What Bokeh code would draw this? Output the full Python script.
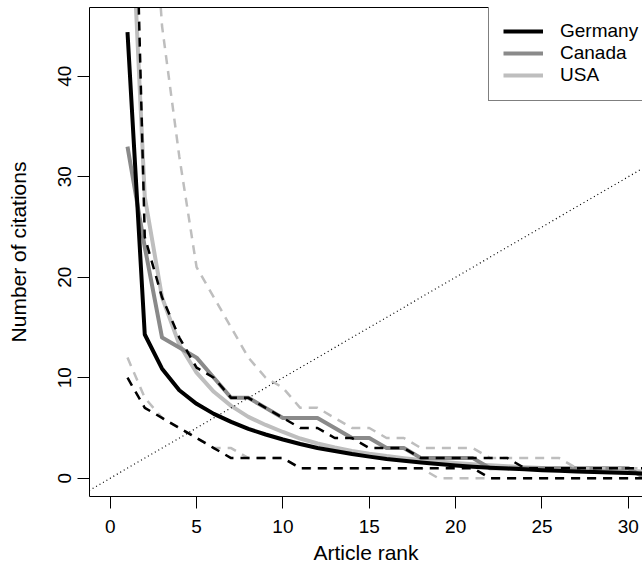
from bokeh.plotting import figure
from bokeh.models import (LinearAxis, FixedTicker, Range1d, Legend, LegendItem,
                          Slope, ColumnDataSource)
from bokeh.embed import file_html
from bokeh.resources import INLINE

# ---------------- data ----------------
rank = list(range(1, 33))

germany_fit = [44.4, 14.3, 10.9, 8.75, 7.4, 6.4, 5.6, 4.9, 4.35, 3.85, 3.4, 3.0,
               2.7, 2.4, 2.15, 1.92, 1.73, 1.56, 1.41, 1.27, 1.15, 1.05, 0.96,
               0.88, 0.8, 0.73, 0.67, 0.61, 0.56, 0.51, 0.46, 0.42]
canada_obs = [33, 23, 14, 13, 12, 10, 8, 8, 7, 6, 6, 6, 5, 4, 4, 3, 3, 2, 2, 2,
              2, 1, 1, 1, 1, 1, 1, 1, 1, 1, 0, 0]
usa_fit = [65, 28, 18, 13.3, 10.5, 8.6, 7.2, 6.1, 5.3, 4.6, 3.95, 3.45, 3.05,
           2.72, 2.44, 2.2, 2.0, 1.82, 1.66, 1.52, 1.4, 1.29, 1.19, 1.1, 1.02,
           0.95, 0.88, 0.82, 0.76, 0.71, 0.66, 0.62]
germany_hi = [90, 24, 18, 14, 11, 10, 8, 8, 7, 6, 5, 5, 4, 4, 3, 3, 3, 2, 2, 2,
              2, 2, 2, 1, 1, 1, 1, 1, 1, 1, 1, 1]
germany_lo = [10, 7, 6, 5, 4, 3, 2, 2, 2, 2, 1, 1, 1, 1, 1, 1, 1, 1, 1, 1, 1,
              0, 0, 0, 0, 0, 0, 0, 0, 0, 0, 0]
usa_hi = [120, 70, 45, 32, 21, 18, 15, 12, 10, 9, 7, 7, 6, 5, 5, 4, 4, 3, 3, 3,
          3, 2, 2, 2, 2, 2, 1, 1, 1, 1, 1, 1]
usa_lo = [12, 8, 6, 5, 4, 3, 3, 2, 2, 2, 1, 1, 1, 1, 1, 1, 1, 1, 0, 0, 0, 0, 0,
          0, 0, 0, 0, 0, 0, 0, 0, 0]

x_ticks = [0, 5, 10, 15, 20, 25, 30]
y_ticks = [0, 10, 20, 30, 40]
series_names = ["Germany", "Canada", "USA"]

# ---------------- figure ----------------
FONT = "Liberation Sans"
FS = "19px"
FS_TITLE = "21px"

p = figure(width=642, height=569, output_backend="svg", toolbar_location=None,
           x_range=Range1d(-1.2, 30.82), y_range=Range1d(-1.82, 46.84),
           min_border_left=89, min_border_right=0, min_border_top=7,
           min_border_bottom=73)
p.grid.visible = False
p.outline_line_color = None
p.background_fill_color = "white"
p.border_fill_color = "white"

src = ColumnDataSource(dict(x=rank, ger=germany_fit, can=canada_obs, usa=usa_fit,
                            ghi=germany_hi, glo=germany_lo, uhi=usa_hi, ulo=usa_lo))

BLACK = "#000000"
GRAY = "#8a8a8a"
LIGHT = "#bebebe"

r_usa = p.line("x", "usa", source=src, line_color=LIGHT, line_width=4, line_join="round")
r_can = p.line("x", "can", source=src, line_color=GRAY, line_width=4, line_join="round")
r_ger = p.line("x", "ger", source=src, line_color=BLACK, line_width=4, line_join="round")
for col in ("uhi", "ulo"):
    p.line("x", col, source=src, line_color=LIGHT, line_width=2.5, line_dash="9 7")
for col in ("ghi", "glo"):
    p.line("x", col, source=src, line_color=BLACK, line_width=2.5, line_dash="9 7")

p.add_layout(Slope(gradient=1, y_intercept=0, line_color="black", line_width=1.2,
                   line_dash="1 3"))

# axes
for ax in (p.xaxis[0], p.yaxis[0]):
    ax.axis_line_color = "black"
    ax.axis_line_width = 1
    ax.major_tick_line_color = "black"
    ax.major_tick_out = 12
    ax.major_tick_in = 0
    ax.minor_tick_out = 0
    ax.minor_tick_in = 0
    ax.major_label_text_font = FONT
    ax.major_label_text_font_size = FS
    ax.major_label_text_color = "black"
    ax.axis_label_text_font = FONT
    ax.axis_label_text_font_size = FS_TITLE
    ax.axis_label_text_font_style = "normal"
    ax.axis_label_text_color = "black"

p.xaxis[0].ticker = FixedTicker(ticks=x_ticks)
p.yaxis[0].ticker = FixedTicker(ticks=y_ticks)
p.xaxis[0].axis_label = "Article rank"
p.yaxis[0].axis_label = "Number of citations"
p.xaxis[0].major_label_standoff = 11
p.xaxis[0].axis_label_standoff = 5
p.yaxis[0].major_label_orientation = "vertical"
p.yaxis[0].major_label_standoff = 6
p.yaxis[0].axis_label_standoff = 26

top = LinearAxis(ticker=FixedTicker(ticks=[]), major_tick_out=0, major_tick_in=0,
                 minor_tick_out=0, minor_tick_in=0, major_label_standoff=0,
                 axis_label_standoff=0, axis_line_color="black",
                 major_label_text_font_size="0px")
p.add_layout(top, "above")

legend = Legend(items=[LegendItem(label=series_names[0], renderers=[r_ger]),
                       LegendItem(label=series_names[1], renderers=[r_can]),
                       LegendItem(label=series_names[2], renderers=[r_usa])],
                location=(399, 395), orientation="vertical",
                border_line_color="black", border_line_width=1,
                background_fill_color="white", background_fill_alpha=1.0,
                label_text_font=FONT, label_text_font_size=FS,
                label_text_color="black",
                glyph_width=40, glyph_height=22, label_height=22, spacing=0,
                padding=14, label_standoff=17, label_width=110, margin=0)
p.add_layout(legend)

open("out.html", "w").write(file_html(p, INLINE))
